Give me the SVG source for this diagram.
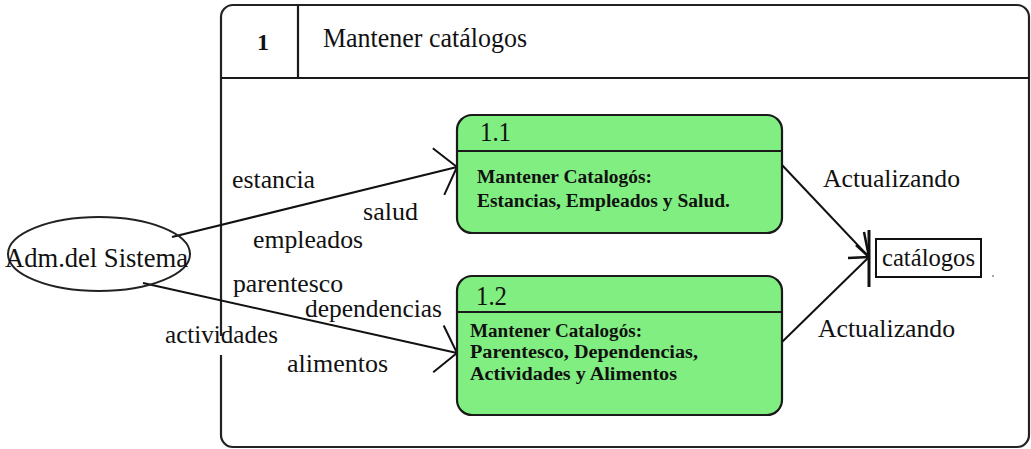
<svg xmlns="http://www.w3.org/2000/svg" width="1031" height="449" viewBox="0 0 1031 449">
<defs>
<style>
.frame{fill:none;stroke:#222;stroke-width:2.2}
.proc{fill:#80EE80;stroke:#1a1a1a;stroke-width:2.2}
.sep{stroke:#1a1a1a;stroke-width:2.2}
.conn{fill:none;stroke:#111;stroke-width:2}
.lbl{font-family:"Liberation Serif",serif;font-size:26px;fill:#111}
.num{font-family:"Liberation Serif",serif;font-size:27px;fill:#111}
.body{font-family:"Liberation Serif",serif;font-size:18.5px;font-weight:bold;fill:#111}
</style>
<marker id="open" markerUnits="userSpaceOnUse" markerWidth="60" markerHeight="60" refX="0" refY="0" viewBox="-30 -30 60 60" orient="auto" overflow="visible">
<path d="M-19,-24 L0,0 L-19,24" fill="none" stroke="#111" stroke-width="2"/>
</marker>
</defs>
<rect width="1031" height="449" fill="#fff"/>

<g id="frame">
<rect class="frame" x="221" y="5" width="808" height="442" rx="12"/>
<line class="sep" x1="221" y1="78" x2="1029" y2="78"/>
<line class="sep" x1="298" y1="5" x2="298" y2="78"/>
<text x="257" y="50" font-family="Liberation Serif,serif" font-size="24" font-weight="bold" fill="#111">1</text>
<text class="lbl" x="323" y="47" style="font-size:27px" textLength="204" lengthAdjust="spacingAndGlyphs">Mantener catálogos</text>
</g>

<g id="connectors">
<line class="conn" x1="172" y1="237" x2="457" y2="167" marker-end="url(#open)"/>
<line class="conn" x1="143" y1="283" x2="457" y2="353" marker-end="url(#open)"/>
<line class="conn" x1="782" y1="165" x2="869" y2="257"/>
<line class="conn" x1="782" y1="342" x2="869" y2="257"/>
<line stroke="#111" stroke-width="3" x1="869" y1="230" x2="869" y2="287"/>
<path d="M848,258 L869,257 M856,245 L869,257 M864,232 L869,257" fill="none" stroke="#111" stroke-width="2.5"/>
<rect x="215" y="336" width="12" height="19" fill="#fff"/>
<text class="lbl" x="232" y="188" textLength="83" lengthAdjust="spacingAndGlyphs">estancia</text>
<text class="lbl" x="363" y="220" textLength="55" lengthAdjust="spacingAndGlyphs">salud</text>
<text class="lbl" x="253" y="248" textLength="110" lengthAdjust="spacingAndGlyphs">empleados</text>
<text class="lbl" x="233" y="292" textLength="110" lengthAdjust="spacingAndGlyphs">parentesco</text>
<text class="lbl" x="305" y="317" textLength="137" lengthAdjust="spacingAndGlyphs">dependencias</text>
<text class="lbl" x="165" y="343" textLength="113" lengthAdjust="spacingAndGlyphs">actividades</text>
<text class="lbl" x="287" y="372" textLength="101" lengthAdjust="spacingAndGlyphs">alimentos</text>
<text class="lbl" x="823" y="187" textLength="137" lengthAdjust="spacingAndGlyphs">Actualizando</text>
<text class="lbl" x="818" y="337" textLength="137" lengthAdjust="spacingAndGlyphs">Actualizando</text>
</g>

<g id="adm">
<ellipse cx="99" cy="254" rx="91" ry="37" fill="none" stroke="#222" stroke-width="2"/>
<text class="lbl" x="5" y="267" style="font-size:27px" textLength="183" lengthAdjust="spacingAndGlyphs">Adm.del Sistema</text>
</g>

<g id="p11">
<rect class="proc" x="457" y="115" width="325" height="118" rx="15"/>
<line class="sep" x1="457" y1="151" x2="782" y2="151"/>
<text class="num" x="480" y="141" textLength="31" lengthAdjust="spacingAndGlyphs">1.1</text>
<text class="body" x="477" y="183" textLength="175" lengthAdjust="spacingAndGlyphs">Mantener Catalogós:</text>
<text class="body" x="477" y="207" textLength="253" lengthAdjust="spacingAndGlyphs">Estancias, Empleados y Salud.</text>
</g>

<g id="p12">
<rect class="proc" x="457" y="276" width="325" height="139" rx="15"/>
<line class="sep" x1="457" y1="312" x2="782" y2="312"/>
<text class="num" x="476" y="305" textLength="31" lengthAdjust="spacingAndGlyphs">1.2</text>
<text class="body" x="470" y="337" textLength="172" lengthAdjust="spacingAndGlyphs">Mantener Catalogós:</text>
<text class="body" x="470" y="358" textLength="228" lengthAdjust="spacingAndGlyphs">Parentesco, Dependencias,</text>
<text class="body" x="470" y="380" textLength="207" lengthAdjust="spacingAndGlyphs">Actividades y Alimentos</text>
</g>

<g id="catalogos">
<rect x="876" y="239" width="105" height="38" fill="#fff" stroke="#111" stroke-width="2"/>
<text class="lbl" x="882" y="266" style="font-size:25px" textLength="93" lengthAdjust="spacingAndGlyphs">catálogos</text>
</g>
<circle cx="993" cy="276" r="1" fill="#888"/>
</svg>
